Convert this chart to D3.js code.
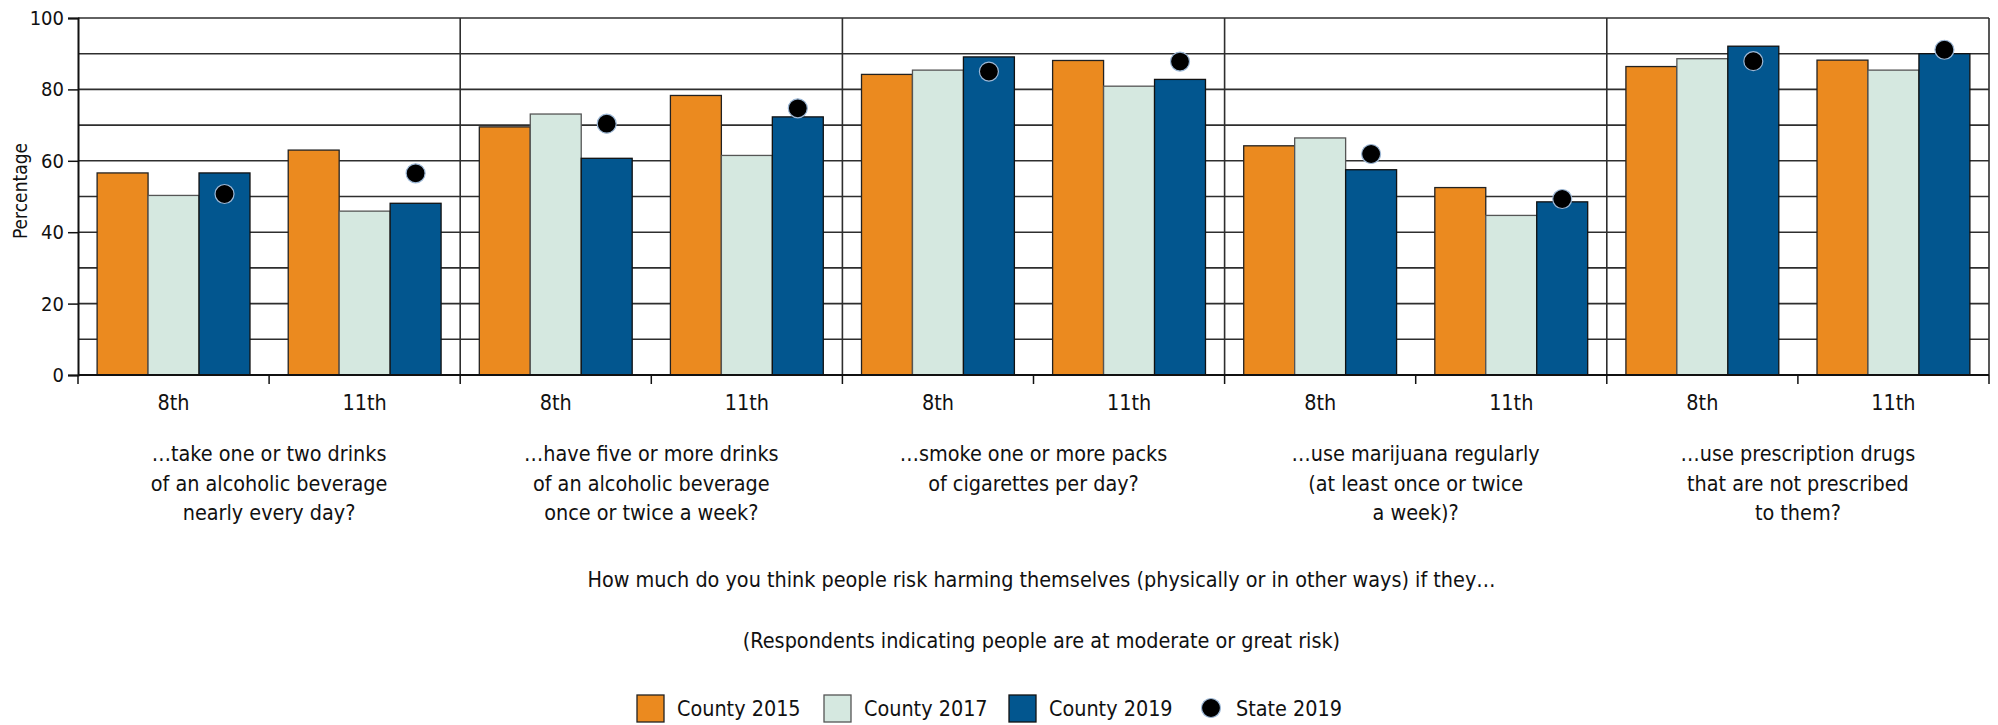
<!DOCTYPE html>
<html>
<head>
<meta charset="utf-8">
<script src="https://cdn.jsdelivr.net/npm/d3@7"></script>
<style>
  body { margin: 0; background: #fff; }
  svg text { font-family: "Liberation Sans Narrow", "Arial Narrow", "DejaVu Sans Condensed", sans-serif; fill: #111; }
</style>
</head>
<body>
<div id="chart"></div>
<script>
// data
const topics = [
  ["…take one or two drinks", "of an alcoholic beverage", "nearly every day?"],
  ["…have five or more drinks", "of an alcoholic beverage", "once or twice a week?"],
  ["…smoke one or more packs", "of cigarettes per day?"],
  ["…use marijuana regularly", "(at least once or twice", "a week)?"],
  ["…use prescription drugs", "that are not prescribed", "to them?"]
];
const grades = ["8th", "11th"];
const series = ["County 2015", "County 2017", "County 2019"];
const county2015 = [56.6, 63.0, 69.5, 78.3, 84.2, 88.1, 64.2, 52.5, 86.4, 88.2];
const county2017 = [50.3, 45.9, 73.1, 61.5, 85.4, 80.9, 66.4, 44.7, 88.6, 85.4];
const county2019 = [56.6, 48.1, 60.7, 72.3, 89.1, 82.8, 57.5, 48.5, 92.1, 90.0];
const state2019  = [50.7, 56.5, 70.4, 74.7, 85.0, 87.8, 61.9, 49.3, 87.9, 91.1];
const yTicks = [0, 20, 40, 60, 80, 100];

/** CONSTANTS */
let width = 1998,
  height = 725,
  fontSize = "21.4px",
  margin = { top: 18, bottom: 350, left: 78, right: 9 };
let colors = ["#eb8a1f", "#d5e8e0", "#02568f"];
let strokes = ["#222", "#555", "#111"];

// one entry per group (topic x grade)
let groups = [];
topics.forEach((t, i) => grades.forEach((g, j) => groups.push({ id: i + "-" + g, topic: i, grade: g })));
let values = [county2015, county2017, county2019];

/** SCALES */
let x0 = d3.scaleBand()
  .domain(groups.map(d => d.id))
  .range([margin.left, width - margin.right])
  .paddingInner(0.2)
  .paddingOuter(0.1);
let x1 = d3.scaleBand()
  .domain(series)
  .range([0, x0.bandwidth()]);
let y = d3.scaleLinear()
  .domain([0, 100])
  .range([height - margin.bottom, margin.top]);
let step = x0.step();
let xStart = margin.left;

let svg = d3.select("#chart").append("svg")
  .attr("width", width)
  .attr("height", height);

// gridlines every 10
svg.append("g")
  .selectAll("line")
  .data(d3.range(10, 101, 10))
  .join("line")
  .attr("x1", margin.left)
  .attr("x2", width - margin.right)
  .attr("y1", d => y(d))
  .attr("y2", d => y(d))
  .attr("stroke", "#2e2e2e")
  .attr("stroke-width", 1.6);

// panel dividers
svg.append("g")
  .selectAll("line")
  .data(d3.range(1, topics.length + 1))
  .join("line")
  .attr("x1", d => xStart + d * 2 * step)
  .attr("x2", d => xStart + d * 2 * step)
  .attr("y1", y(100))
  .attr("y2", y(0))
  .attr("stroke", "#2e2e2e")
  .attr("stroke-width", 1.6);

// bars
let barData = [];
groups.forEach((g, i) => series.forEach((s, k) => barData.push({ g: g.id, s: s, k: k, v: values[k][i] })));
svg.append("g")
  .selectAll("rect")
  .data(barData)
  .join("rect")
  .attr("x", d => x0(d.g) + x1(d.s))
  .attr("y", d => y(d.v))
  .attr("width", x1.bandwidth())
  .attr("height", d => y(0) - y(d.v))
  .attr("fill", d => colors[d.k])
  .attr("stroke", d => strokes[d.k])
  .attr("stroke-width", 1.3);

// state dots
svg.append("g")
  .selectAll("circle")
  .data(groups)
  .join("circle")
  .attr("cx", d => x0(d.id) + x1("County 2019") + x1.bandwidth() / 2)
  .attr("cy", (d, i) => y(state2019[i]))
  .attr("r", 9.5)
  .attr("fill", "#000")
  .attr("stroke", "#9db8d6")
  .attr("stroke-width", 1.2);

// y axis
let yAxis = d3.axisLeft(y).tickValues(yTicks).tickSize(10).tickPadding(4);
let ya = svg.append("g")
  .attr("transform", `translate(${margin.left},0)`)
  .call(yAxis);
ya.select(".domain").attr("stroke", "#111").attr("stroke-width", 2);
ya.selectAll(".tick line").attr("stroke", "#111").attr("stroke-width", 1.5);
ya.selectAll("text").style("font-size", "20px").attr("fill", "#111");

// x baseline + ticks at group boundaries
svg.append("line")
  .attr("x1", margin.left).attr("x2", width - margin.right)
  .attr("y1", y(0)).attr("y2", y(0))
  .attr("stroke", "#111").attr("stroke-width", 2.2);
svg.append("g")
  .selectAll("line")
  .data(d3.range(0, groups.length + 1))
  .join("line")
  .attr("x1", d => xStart + d * step)
  .attr("x2", d => xStart + d * step)
  .attr("y1", y(0))
  .attr("y2", y(0) + 9)
  .attr("stroke", "#111")
  .attr("stroke-width", 1.5);

// grade labels
svg.append("g")
  .selectAll("text")
  .data(groups)
  .join("text")
  .attr("x", d => x0(d.id) + x0.bandwidth() / 2)
  .attr("y", 410)
  .attr("text-anchor", "middle")
  .style("font-size", fontSize)
  .text(d => d.grade);

// topic labels
let tl = svg.append("g")
  .selectAll("text")
  .data(topics)
  .join("text")
  .attr("x", (d, i) => xStart + (2 * i + 1) * step)
  .attr("y", 461)
  .attr("text-anchor", "middle")
  .style("font-size", fontSize);
tl.selectAll("tspan")
  .data(d => d)
  .join("tspan")
  .attr("x", function () { return this.parentNode.getAttribute("x"); })
  .attr("dy", (d, i) => i == 0 ? 0 : 29.5)
  .text(d => d);

let cx = (margin.left + width - margin.right) / 2;
svg.append("text")
  .attr("x", cx + 8).attr("y", 587)
  .attr("text-anchor", "middle")
  .style("font-size", fontSize)
  .text("How much do you think people risk harming themselves (physically or in other ways) if they…");
svg.append("text")
  .attr("x", cx + 8).attr("y", 648)
  .attr("text-anchor", "middle")
  .style("font-size", fontSize)
  .text("(Respondents indicating people are at moderate or great risk)");

// y label
svg.append("text")
  .attr("transform", "translate(27,191) rotate(-90)")
  .attr("text-anchor", "middle")
  .style("font-size", "19px")
  .text("Percentage");

// legend
let legendX = [637, 824, 1009];
let lg = svg.append("g");
series.forEach((s, k) => {
  lg.append("rect")
    .attr("x", legendX[k]).attr("y", 695)
    .attr("width", 27).attr("height", 27)
    .attr("fill", colors[k]).attr("stroke", strokes[k]).attr("stroke-width", 1.3);
  lg.append("text")
    .attr("x", legendX[k] + 40).attr("y", 716)
    .style("font-size", fontSize)
    .text(s);
});
lg.append("circle")
  .attr("cx", 1211).attr("cy", 708).attr("r", 9.5)
  .attr("fill", "#000").attr("stroke", "#9db8d6").attr("stroke-width", 1.2);
lg.append("text")
  .attr("x", 1236).attr("y", 716)
  .style("font-size", fontSize)
  .text("State 2019");
</script>
</body>
</html>
